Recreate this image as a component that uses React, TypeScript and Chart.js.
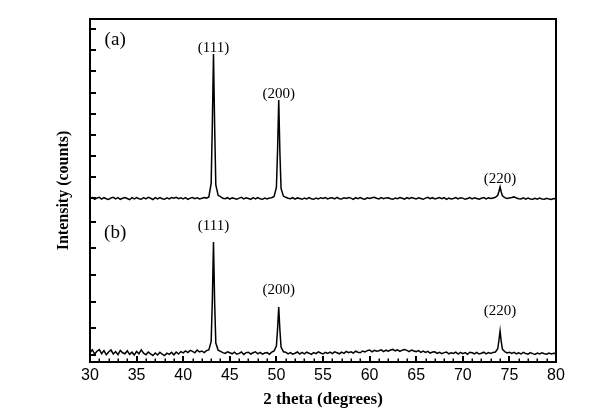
import React, { useEffect, useRef } from 'react';
import { Chart, registerables } from 'chart.js';

Chart.register(...registerables);

// 2-theta angles (degrees)
const twoTheta: number[] = [
  30, 30.25, 30.5, 30.75,
  31, 31.25, 31.5, 31.75,
  32, 32.25, 32.5, 32.75,
  33, 33.25, 33.5, 33.75,
  34, 34.25, 34.5, 34.75,
  35, 35.25, 35.5, 35.75,
  36, 36.25, 36.5, 36.75,
  37, 37.25, 37.5, 37.75,
  38, 38.25, 38.5, 38.75,
  39, 39.25, 39.5, 39.75,
  40, 40.25, 40.5, 40.75,
  41, 41.25, 41.5, 41.75,
  42, 42.25, 42.5, 42.75,
  43, 43.125, 43.25, 43.375, 43.5, 43.75,
  44, 44.25, 44.5, 44.75,
  45, 45.25, 45.5, 45.75,
  46, 46.25, 46.5, 46.75,
  47, 47.25, 47.5, 47.75,
  48, 48.25, 48.5, 48.75,
  49, 49.25, 49.5, 49.75,
  50, 50.125, 50.25, 50.375, 50.5, 50.75,
  51, 51.25, 51.5, 51.75,
  52, 52.25, 52.5, 52.75,
  53, 53.25, 53.5, 53.75,
  54, 54.25, 54.5, 54.75,
  55, 55.25, 55.5, 55.75,
  56, 56.25, 56.5, 56.75,
  57, 57.25, 57.5, 57.75,
  58, 58.25, 58.5, 58.75,
  59, 59.25, 59.5, 59.75,
  60, 60.25, 60.5, 60.75,
  61, 61.25, 61.5, 61.75,
  62, 62.25, 62.5, 62.75,
  63, 63.25, 63.5, 63.75,
  64, 64.25, 64.5, 64.75,
  65, 65.25, 65.5, 65.75,
  66, 66.25, 66.5, 66.75,
  67, 67.25, 67.5, 67.75,
  68, 68.25, 68.5, 68.75,
  69, 69.25, 69.5, 69.75,
  70, 70.25, 70.5, 70.75,
  71, 71.25, 71.5, 71.75,
  72, 72.25, 72.5, 72.75,
  73, 73.25, 73.5, 73.75, 73.875,
  74, 74.125, 74.25, 74.5, 74.75,
  75, 75.25, 75.5, 75.75,
  76, 76.25, 76.5, 76.75,
  77, 77.25, 77.5, 77.75,
  78, 78.25, 78.5, 78.75,
  79, 79.25, 79.5, 79.75,
  80,
];

// Pattern (a) intensity (counts), before vertical offset
const intensityA: number[] = [
  76, 90, 72, 86,
  92, 74, 88, 78,
  70, 86, 92, 76,
  88, 72, 82, 90,
  80, 68, 88, 76,
  90, 78, 72, 88,
  76, 92, 82, 70,
  88, 76, 90, 78,
  72, 86, 76, 90,
  82, 92, 78, 86,
  76, 88, 72, 84,
  90, 78, 86, 76,
  82, 90, 84, 96,
  230, 820, 1525, 800, 215, 112,
  98, 82, 78, 88,
  74, 86, 80, 72,
  84, 92, 76, 86,
  80, 72, 88, 76,
  90, 78, 72, 84,
  76, 86, 88, 100,
  190, 560, 1065, 540, 180, 104,
  92, 82, 78, 88,
  74, 86, 80, 72,
  84, 76, 90, 78,
  72, 84, 76, 88,
  80, 90, 76, 84,
  88, 76, 92, 78,
  76, 88, 80, 90,
  84, 72, 88, 78,
  90, 78, 74, 88,
  80, 88, 92, 82,
  76, 90, 78, 86,
  88, 78, 72, 84,
  78, 90, 82, 74,
  88, 78, 90, 82,
  76, 88, 80, 72,
  84, 92, 78, 88,
  76, 82, 90, 78,
  88, 72, 84, 76,
  80, 90, 76, 88,
  84, 72, 80, 90,
  76, 88, 80, 72,
  82, 90, 76, 86,
  80, 86, 92, 112, 150,
  195, 145, 106, 88, 80,
  86, 90, 96, 84,
  78, 76, 86, 74,
  84, 76, 72, 82,
  74, 84, 76, 72,
  82, 74, 70, 80,
  76,
];

// Pattern (b) intensity (counts)
const intensityB: number[] = [
  95, 122, 80, 108,
  124, 84, 114, 72,
  100, 120, 80, 104,
  74, 116, 92, 82,
  112, 76, 98, 70,
  106, 82, 122, 88,
  72, 100, 82, 66,
  90, 70, 98, 78,
  64, 88, 76, 96,
  72, 100, 80, 104,
  92, 110, 94, 116,
  106, 92, 120, 100,
  110, 94, 114, 120,
  205, 610, 1200, 590, 190, 118,
  106, 94, 86, 102,
  92, 82, 98, 78,
  86, 100, 76, 94,
  98, 80, 92, 102,
  82, 96, 78, 90,
  94, 78, 98, 110,
  160, 330, 550, 320, 150, 102,
  98, 82, 94, 78,
  88, 100, 80, 96,
  82, 98, 88, 76,
  94, 84, 102, 90,
  80, 96, 86, 98,
  84, 102, 92, 82,
  98, 86, 106, 94,
  102, 90, 108, 98,
  92, 110, 100, 114,
  120, 102, 116, 108,
  112, 122, 104, 118,
  108, 120, 126, 112,
  122, 106, 118, 124,
  116, 104, 120, 110,
  104, 114, 96, 108,
  96, 106, 88, 100,
  102, 86, 96, 84,
  94, 100, 82, 92,
  86, 98, 80, 96,
  84, 94, 78, 98,
  92, 82, 96, 80,
  88, 98, 82, 94,
  86, 96, 100, 132, 215,
  310, 205, 128, 104, 90,
  98, 86, 96, 82,
  92, 80, 96, 84,
  78, 94, 84, 76,
  90, 80, 92, 82,
  78, 90, 80, 88,
  84,
];

const OFFSET_A = 1555;

// Axis
const X_MIN = 30;
const X_MAX = 80;
const X_STEP = 5;
const X_MINOR_STEP = 1;
const Y_MIN = 0;
const Y_MAX = 3430;
const yTickValues: number[] = [
  3330, 3118, 2907, 2695, 2484, 2272, 2061, 1849, 1637,
  1400, 1135, 870, 605, 340, 75,
];

// Annotations
const peakNames: string[] = ['(111)', '(200)', '(220)'];
const peakAngles: number[] = [43.25, 50.25, 74.0];
const peakLabelYA: number[] = [3142, 2675, 1830];
const peakLabelYB: number[] = [1362, 715, 505];
const panelNames: string[] = ['(a)', '(b)'];
const panelLabelX = 32.7;
const panelLabelY: number[] = [3220, 1290];

const framePlugin = {
  id: 'xrdFrame',
  afterDatasetsDraw(chart: any) {
    const { ctx, chartArea, scales } = chart;
    const xs = scales.x;
    const ys = scales.y;
    const { left, right, top, bottom } = chartArea;
    ctx.save();
    ctx.strokeStyle = '#000';
    ctx.fillStyle = '#000';

    // frame
    ctx.lineWidth = 2;
    ctx.strokeRect(left, top, right - left, bottom - top);

    // y ticks (inward)
    ctx.lineWidth = 2;
    ctx.beginPath();
    for (const t of ys.ticks) {
      const py = Math.round(ys.getPixelForValue(t.value));
      ctx.moveTo(left, py);
      ctx.lineTo(left + 6, py);
    }
    ctx.stroke();

    // x major ticks (inward)
    ctx.beginPath();
    for (const t of xs.ticks) {
      const px = Math.round(xs.getPixelForValue(t.value));
      ctx.moveTo(px, bottom);
      ctx.lineTo(px, bottom - 6);
    }
    ctx.stroke();

    // x minor ticks
    ctx.lineWidth = 1.5;
    ctx.beginPath();
    for (let v = X_MIN; v <= X_MAX; v += X_MINOR_STEP) {
      if (v % X_STEP === 0) continue;
      const px = Math.round(xs.getPixelForValue(v)) + 0.25;
      ctx.moveTo(px, bottom);
      ctx.lineTo(px, bottom - 3.5);
    }
    ctx.stroke();

    // peak labels
    ctx.textAlign = 'center';
    ctx.textBaseline = 'middle';
    ctx.font = '15px "Liberation Serif"';
    peakNames.forEach((name, i) => {
      const px = xs.getPixelForValue(peakAngles[i]);
      ctx.fillText(name, px, ys.getPixelForValue(peakLabelYA[i]));
      ctx.fillText(name, px, ys.getPixelForValue(peakLabelYB[i]));
    });

    // panel labels
    ctx.font = '19px "Liberation Serif"';
    panelNames.forEach((name, i) => {
      ctx.fillText(name, xs.getPixelForValue(panelLabelX), ys.getPixelForValue(panelLabelY[i]));
    });
    ctx.restore();
  },
};

export default function App() {
  const canvasRef = useRef<HTMLCanvasElement | null>(null);

  useEffect(() => {
    if (!canvasRef.current) return;
    const dataA = twoTheta.map((x, i) => ({ x, y: intensityA[i] + OFFSET_A }));
    const dataB = twoTheta.map((x, i) => ({ x, y: intensityB[i] }));
    const chart = new Chart(canvasRef.current, {
      type: 'line',
      data: {
        datasets: [
          {
            label: '(a)',
            data: dataA,
            borderColor: '#000',
            borderWidth: 1.5,
            pointRadius: 0,
            tension: 0,
            fill: false,
          },
          {
            label: '(b)',
            data: dataB,
            borderColor: '#000',
            borderWidth: 1.5,
            pointRadius: 0,
            tension: 0,
            fill: false,
          },
        ],
      },
      options: {
        animation: false,
        responsive: true,
        maintainAspectRatio: false,
        devicePixelRatio: 1,
        layout: { padding: { left: 0, top: 19, right: 46, bottom: 0 } },
        plugins: {
          legend: { display: false },
          tooltip: { enabled: false },
        },
        scales: {
          x: {
            type: 'linear',
            position: 'bottom',
            min: X_MIN,
            max: X_MAX,
            ticks: {
              stepSize: X_STEP,
              color: '#000',
              padding: 6,
              maxRotation: 0,
              autoSkip: false,
              font: { family: '"Liberation Sans", Arial, sans-serif', size: 16, lineHeight: 1 },
            },
            grid: { display: false, drawTicks: false },
            border: { display: false },
            title: {
              display: true,
              text: '2 theta (degrees)',
              color: '#000',
              font: { family: '"Liberation Serif", "Times New Roman", serif', size: 17, weight: 'bold', lineHeight: 1 },
              padding: { top: 0, bottom: 10 },
            },
            afterFit: (s: any) => {
              s.height = 56;
            },
          },
          y: {
            type: 'linear',
            min: Y_MIN,
            max: Y_MAX,
            ticks: { display: false },
            grid: { display: false, drawTicks: false },
            border: { display: false },
            afterBuildTicks: (s: any) => {
              s.ticks = yTickValues.map((v) => ({ value: v }));
            },
            title: {
              display: true,
              text: 'Intensity (counts)',
              color: '#000',
              font: { family: '"Liberation Serif", "Times New Roman", serif', size: 16, weight: 'bold', lineHeight: 1 },
              padding: { top: 56, bottom: 0 },
            },
            afterFit: (s: any) => {
              s.width = 90;
            },
          },
        },
      } as any,
      plugins: [framePlugin],
    });
    return () => chart.destroy();
  }, []);

  return (
    <div style={{ position: 'absolute', left: 0, top: 0, width: 602, height: 418, background: '#fff' }}>
      <canvas ref={canvasRef} />
    </div>
  );
}
